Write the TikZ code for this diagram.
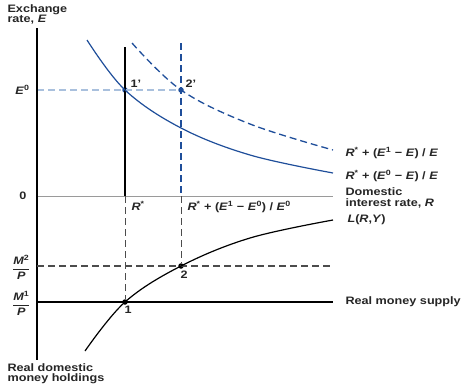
\documentclass[tikz,border=0pt]{standalone}
\usepackage{amsmath}
\usepackage{fontspec}
\setmainfont{Liberation Sans}[FakeStretch=1.17]
\usetikzlibrary{positioning}
\definecolor{curveblue}{HTML}{1F4E9A}
\definecolor{paleblue}{HTML}{A9C0DD}
\definecolor{axisgray}{HTML}{9A9A9A}
\newcommand{\frc}[2]{\(\dfrac{\text{\bfseries\itshape #1}^{\text{\bfseries #2}}}{\text{\bfseries\itshape P}}\)}

\begin{document}
\begin{tikzpicture}[x=1pt,y=-1pt,font=\fontsize{10.8}{10.5}\selectfont\bfseries,
	dot/.style={circle,fill=black,inner sep=0pt,minimum size=5.5pt},
	bluedot/.style={circle,fill=curveblue,inner sep=0pt,minimum size=5.5pt},
	lab/.style={inner sep=1pt,text=black!85},
	dashline/.style={dash pattern=on 7pt off 4pt},
	line width=1.1pt]
	\useasboundingbox (0,0) rectangle (470,388);
	
	% axes and frame points
	\coordinate (top) at (37,28);
	\coordinate (bot) at (37,360);
	\coordinate (zero) at (37,196);
	\coordinate (zeroend) at (333,196);
	\coordinate (mone) at (37,302);
	\coordinate (moneend) at (333,302);
	\coordinate (mtwo) at (37,266);
	\coordinate (mtwoend) at (333,266);
	\coordinate (eo) at (37,90);
	\coordinate (rstartop) at (125,47);
	\coordinate (rstar) at (125,196);
	\coordinate (rnewtop) at (181,43);
	\coordinate (rnew) at (181,196);
	
	\node[bluedot] (p1p) at (125,90) {};
	\node[bluedot] (p2p) at (181,90) {};
	\node[dot] (p1) at (125,302) {};
	\node[dot] (p2) at (181,266) {};
	
	\draw[axisgray,line width=0.9pt] (zero) -- (zeroend);
	\draw[paleblue,dashline,line width=1.5pt] (eo) -- (p2p);
	\draw[line width=2.3pt] (top) -- (bot);
	\draw (mone) -- (moneend);
	\draw[dashline,gray!60!black] (mtwo) -- (mtwoend);
	
	\draw[line width=1.5pt] (rstartop) -- (rstar);
	\draw[dashline,gray!60!black,line width=0.9pt] (rstar) -- (p1);
	\draw[curveblue,dashline,line width=1.6pt] (rnewtop) -- (rnew);
	\draw[dashline,gray!60!black,line width=0.9pt] (rnew) -- (p2);
	
	% curves
	\draw[curveblue,line width=1.2pt] plot[smooth,tension=0.6] coordinates
		{(87,40) (125,90) (181,128) (250,155) (333,173)};
	\draw[curveblue,line width=1.3pt,dashline] plot[smooth,tension=0.6] coordinates
		{(132,43) (181,90) (250,124) (333,150)};
	\draw[line width=1.2pt] plot[smooth,tension=0.6] coordinates
		{(85,351) (125,302) (181,266) (250,238) (333,220)};
	
	% labels
	\node[lab,anchor=north west,align=left] (ylab) at (6,3) {Exchange\\rate, \textit{E}};
	\node[lab,anchor=north west,align=left] (xlab) at (6,362) {Real domestic\\money holdings};
	\node[lab,anchor=east] (eolab) at (31,90) {\textit{E}\textsuperscript{0}};
	\node[lab,anchor=east] (zlab) at (28,196) {0};
	\node[lab,anchor=east] (m2lab) at (32,267) {\frc{M}{2}};
	\node[lab,anchor=east] (m1lab) at (32,303) {\frc{M}{1}};
	\node[lab,anchor=south west] (l1p) at (129,89) {1'};
	\node[lab,anchor=south west] (l2p) at (184,89) {2'};
	\node[lab,anchor=north west] (l1) at (123,305) {1};
	\node[lab,anchor=north west] (l2) at (179,269) {2};
	\node[lab,anchor=north west] (rslab) at (130,200) {\textit{R}\textsuperscript{*}};
	\node[lab,anchor=north west] (rnlab) at (186,200)
		{\textit{R}\textsuperscript{*} + (\textit{E}\textsuperscript{1} − \textit{E}\textsuperscript{0}) / \textit{E}\textsuperscript{0}};
	\node[lab,anchor=west] (c1lab) at (344,153)
		{\textit{R}\textsuperscript{*} + (\textit{E}\textsuperscript{1} − \textit{E}) / \textit{E}};
	\node[lab,anchor=west] (c0lab) at (344,176)
		{\textit{R}\textsuperscript{*} + (\textit{E}\textsuperscript{0} − \textit{E}) / \textit{E}};
	\node[lab,anchor=west,align=left] (rlab) at (344,198) {Domestic\\interest rate, \textit{R}};
	\node[lab,anchor=west] (llab) at (346,220) {\textit{L}(\textit{R},\textit{Y})};
	\node[lab,anchor=west] (mslab) at (344,302) {Real money supply};
\end{tikzpicture}
\end{document}
